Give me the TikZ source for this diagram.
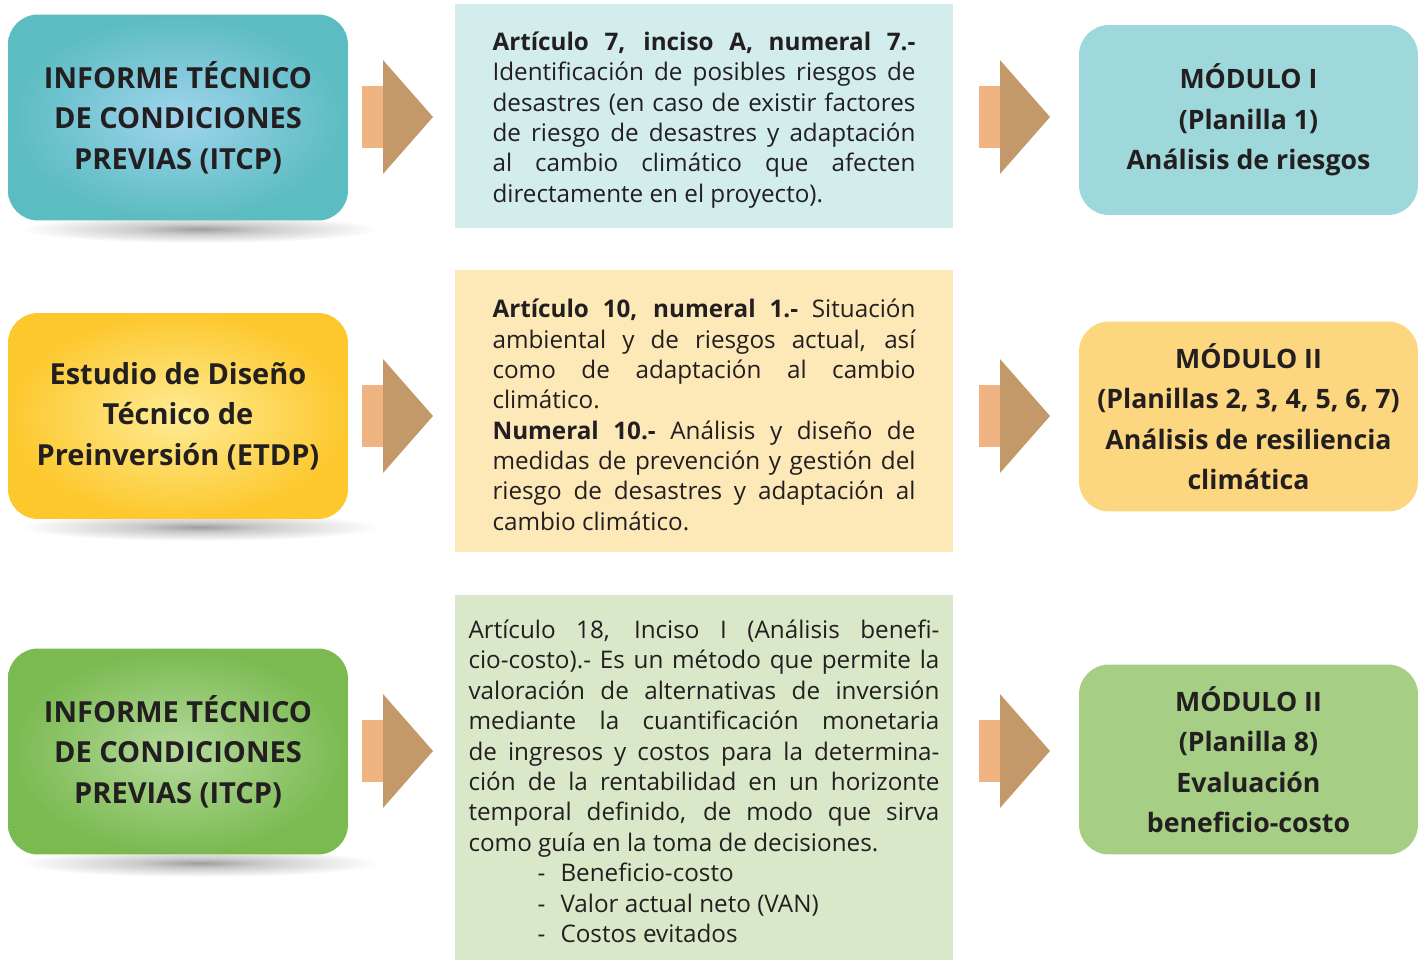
\documentclass[tikz,border=0pt]{standalone}
\usepackage{fontspec}
\setmainfont{Open Sans}
\usepackage{xcolor}
\usetikzlibrary{shapes,calc}
\definecolor{texto}{HTML}{231F20}
\definecolor{colaFlecha}{HTML}{EFB482}
\definecolor{puntaFlecha}{HTML}{C4996A}
\definecolor{tealOut}{HTML}{5BBCC1}
\definecolor{tealIn}{HTML}{A0D4EE}
\definecolor{oroOut}{HTML}{FDC82E}
\definecolor{oroIn}{HTML}{FEEC95}
\definecolor{verdeOut}{HTML}{7ABA50}
\definecolor{verdeIn}{HTML}{B5DA9C}
\definecolor{celeste}{HTML}{D3ECEC}
\definecolor{crema}{HTML}{FDE8B8}
\definecolor{pistacho}{HTML}{D9E8C9}
\definecolor{modA}{HTML}{9FD8DA}
\definecolor{modB}{HTML}{FDD77F}
\definecolor{modC}{HTML}{A6CE85}
\pgfdeclareradialshading{sombra}{\pgfpoint{0bp}{0bp}}{color(0bp)=(black!38); color(9bp)=(black!20); color(25bp)=(white); color(50bp)=(white)}
\tikzstyle{fuente}   = [rectangle,rounded corners=0.6cm,minimum width=6.8cm,minimum height=4.12cm,align=center,text=texto,font=\bfseries\fontsize{16.5}{23}\selectfont,execute at begin node={\rule{0pt}{21pt}}]
\tikzstyle{articulo} = [rectangle,minimum width=9.96cm,text width=8.46cm,align=justify,text=texto,font=\fontsize{13.8}{17.3}\selectfont,execute at begin node={\rule{0pt}{15pt}}]
\tikzstyle{modulo}   = [rectangle,rounded corners=0.6cm,minimum width=6.78cm,minimum height=3.8cm,align=center,text=texto,font=\bfseries\fontsize{15.2}{23}\selectfont,execute at begin node={\rule{0pt}{21pt}}]
% flecha de bloque: cola + punta
\newcommand{\flecha}[3]{%
  \fill[colaFlecha] (#1,#3-31) rectangle (#1+22,#3+31);
  \fill[puntaFlecha] (#2,#3-57) -- (#2+50,#3) -- (#2,#3+57) -- cycle;}

\begin{document}
\begin{tikzpicture}[x=0.02cm,y=-0.02cm]
	\useasboundingbox (0,0) rectangle (1418,960);
	\hyphenpenalty=10000 \tolerance=10000

	% sombras
	\shade[shading=sombra] (200,229) ellipse [x radius=3.6cm, y radius=0.28cm];
	\shade[shading=sombra] (200,527) ellipse [x radius=3.6cm, y radius=0.28cm];
	\shade[shading=sombra] (200,863) ellipse [x radius=3.6cm, y radius=0.28cm];

	% documentos de origen
	\node[fuente,inner color=tealIn,outer color=tealOut] (s1) at (178,117.5) {INFORME TÉCNICO\\DE CONDICIONES\\PREVIAS (ITCP)};
	\node[fuente,inner color=oroIn,outer color=oroOut] (s2) at (178,416) {Estudio de Diseño\\Técnico de\\Preinversión (ETDP)};
	\node[fuente,inner color=verdeIn,outer color=verdeOut] (s3) at (178,751.5) {INFORME TÉCNICO\\DE CONDICIONES\\PREVIAS (ITCP)};

	% articulos
	\node[articulo,fill=celeste,minimum height=4.48cm] (a1) at (704,116) {\textbf{Artículo 7, inciso A, numeral 7.-}\linebreak Identificación de posibles riesgos de\linebreak desastres (en caso de existir factores\linebreak de riesgo de desastres y adaptación\linebreak al cambio climático que afecten\linebreak directamente en el proyecto).};
	\node[articulo,fill=crema,minimum height=5.64cm] (a2) at (704,411) {\textbf{Artículo 10, numeral 1.-} Situación\linebreak ambiental y de riesgos actual, así\linebreak como de adaptación al cambio\linebreak climático.\par \textbf{Numeral 10.-} Análisis y diseño de\linebreak medidas de prevención y gestión del\linebreak riesgo de desastres y adaptación al\linebreak cambio climático.};
	\node[articulo,fill=pistacho,minimum height=7.3cm,text width=9.42cm] (a3) at (704,777.5) {Artículo 18, Inciso I (Análisis benefi-\linebreak cio-costo).- Es un método que permite la\linebreak valoración de alternativas de inversión\linebreak mediante la cuantificación monetaria\linebreak de ingresos y costos para la determina-\linebreak ción de la rentabilidad en un horizonte\linebreak temporal definido, de modo que sirva\linebreak como guía en la toma de decisiones.\par
	\hspace*{1.38cm}\makebox[0.46cm][l]{-}Beneficio-costo\par
	\hspace*{1.38cm}\makebox[0.46cm][l]{-}Valor actual neto (VAN)\par
	\hspace*{1.38cm}\makebox[0.46cm][l]{-}Costos evitados};

	% modulos
	\node[modulo,fill=modA] (m1) at (1248.5,120) {MÓDULO I\\(Planilla 1)\\Análisis de riesgos};
	\node[modulo,fill=modB] (m2) at (1248.5,416.5) {MÓDULO II\\(Planillas 2, 3, 4, 5, 6, 7)\\Análisis de resiliencia\\climática};
	\node[modulo,fill=modC] (m3) at (1248.5,759.5) {MÓDULO II\\(Planilla 8)\\Evaluación\\beneficio-costo};

	% flechas
	\flecha{362}{383}{117}
	\flecha{362}{383}{416}
	\flecha{362}{383}{751}
	\flecha{979}{1000}{117}
	\flecha{979}{1000}{416}
	\flecha{979}{1000}{751}
\end{tikzpicture}
\end{document}
